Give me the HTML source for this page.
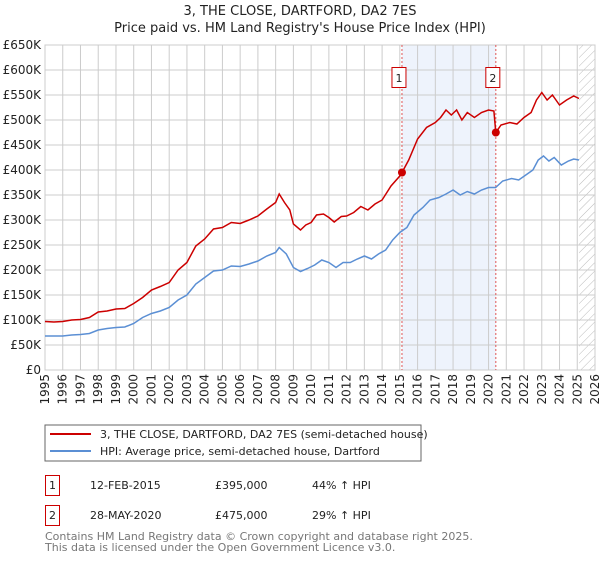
<!DOCTYPE html>
<html><head><meta charset="utf-8"><style>
body{margin:0;background:#fff;font-family:"DejaVu Sans","Liberation Sans",sans-serif;}
svg text{font-family:"DejaVu Sans","Liberation Sans",sans-serif;}
</style></head><body>
<svg id="c" width="600" height="560" xmlns="http://www.w3.org/2000/svg">
<defs><pattern id="hatch" width="6" height="6" patternUnits="userSpaceOnUse" patternTransform="rotate(45)"><line x1="0" y1="0" x2="0" y2="6" stroke="#bbb" stroke-width="1"/></pattern></defs>
<text x="300" y="15" text-anchor="middle" font-size="13" fill="#222">3, THE CLOSE, DARTFORD, DA2 7ES</text>
<text x="300" y="32" text-anchor="middle" font-size="13" fill="#222">Price paid vs. HM Land Registry's House Price Index (HPI)</text>
<g id="plot"></g>
<rect x="45" y="425" width="376" height="36" fill="#fff" stroke="#666"/>
<line x1="50" y1="434" x2="91" y2="434" stroke="#cc0000" stroke-width="2"/>
<text x="100" y="438" font-size="11" fill="#222">3, THE CLOSE, DARTFORD, DA2 7ES (semi-detached house)</text>
<line x1="50" y1="451" x2="91" y2="451" stroke="#5b8fd4" stroke-width="2"/>
<text x="100" y="455" font-size="11" fill="#222">HPI: Average price, semi-detached house, Dartford</text>
<g font-size="11" fill="#222">
<rect x="45.5" y="475.5" width="14" height="20" fill="#fff" stroke="#cc0000"/><text x="52.5" y="489" text-anchor="middle">1</text>
<text x="90" y="489">12-FEB-2015</text><text x="215" y="489">£395,000</text><text x="312" y="489">44% ↑ HPI</text></g>
<g font-size="11" fill="#222">
<rect x="45.5" y="505.5" width="14" height="20" fill="#fff" stroke="#cc0000"/><text x="52.5" y="519" text-anchor="middle">2</text>
<text x="90" y="519">28-MAY-2020</text><text x="215" y="519">£475,000</text><text x="312" y="519">29% ↑ HPI</text></g>
<text x="45" y="540" font-size="11" fill="#777">Contains HM Land Registry data © Crown copyright and database right 2025.</text>
<text x="45" y="551" font-size="11" fill="#777">This data is licensed under the Open Government Licence v3.0.</text>
</svg>
<script>
const redT=[1995,1995.5,1996,1996.5,1997,1997.5,1998,1998.5,1999,1999.5,2000,2000.5,2001,2001.5,2002,2002.5,2003,2003.5,2004,2004.5,2005,2005.5,2006,2006.5,2007,2007.5,2008,2008.2,2008.5,2008.8,2009,2009.4,2009.7,2010,2010.3,2010.7,2011,2011.3,2011.7,2012,2012.4,2012.8,2013.2,2013.6,2014,2014.5,2015,2015.12,2015.5,2016,2016.5,2017,2017.3,2017.6,2017.9,2018.2,2018.5,2018.8,2019.2,2019.6,2020,2020.3,2020.41,2020.7,2021.2,2021.6,2022,2022.4,2022.7,2023,2023.3,2023.6,2024,2024.4,2024.8,2025.1];
const redV=[97,96,97,100,101,105,116,118,122,123,133,145,160,167,175,200,215,248,262,282,285,295,293,300,308,322,335,352,335,320,292,280,290,295,310,312,305,296,307,308,315,327,320,332,340,368,388,395,420,462,485,495,505,520,510,520,500,515,505,515,520,518,475,490,495,492,505,515,540,555,540,550,530,540,548,543];
const hpiT=[1995,1996,1996.5,1997,1997.5,1998,1998.5,1999,1999.5,2000,2000.5,2001,2001.5,2002,2002.5,2003,2003.5,2004,2004.5,2005,2005.5,2006,2006.5,2007,2007.5,2008,2008.2,2008.6,2009,2009.4,2009.8,2010.2,2010.6,2011,2011.4,2011.8,2012.2,2012.6,2013,2013.4,2013.8,2014.2,2014.6,2015,2015.4,2015.8,2016.3,2016.7,2017.2,2017.6,2018,2018.4,2018.8,2019.2,2019.6,2020,2020.4,2020.8,2021.3,2021.7,2022.1,2022.5,2022.8,2023.1,2023.4,2023.7,2024.1,2024.5,2024.8,2025.1];
const hpiV=[68,68,70,71,73,80,83,85,86,93,105,113,118,125,140,150,172,185,198,200,208,207,212,218,228,235,245,232,205,197,203,210,220,215,205,215,215,222,228,222,232,240,260,275,285,310,325,340,345,352,360,350,357,352,360,365,365,378,383,380,390,400,420,428,418,425,410,418,422,420];
const saleT=[2015.12,2020.41];
const saleV=[395,475];
const saleLabels=["1","2"];
const yTicks=[0,50,100,150,200,250,300,350,400,450,500,550,600,650];
const yTickLabels=["£0","£50K","£100K","£150K","£200K","£250K","£300K","£350K","£400K","£450K","£500K","£550K","£600K","£650K"];
const xTicks=[1995,1996,1997,1998,1999,2000,2001,2002,2003,2004,2005,2006,2007,2008,2009,2010,2011,2012,2013,2014,2015,2016,2017,2018,2019,2020,2021,2022,2023,2024,2025,2026];
const X0=45,X1=595,Y0=370,Y1=45;
const x=t=>X0+(t-1995)/(2026-1995)*(X1-X0);
const y=v=>Y0-v/650*(Y0-Y1);
const NS="http://www.w3.org/2000/svg",g=document.getElementById('plot');
function mk(tag,a,p){const e=document.createElementNS(NS,tag);for(const k in a)e.setAttribute(k,a[k]);(p||g).appendChild(e);return e;}
let e=mk('rect',{x:x(saleT[0]),y:Y1,width:x(saleT[1])-x(saleT[0]),height:Y0-Y1,fill:'#eef3fc'});


e=mk('rect',{x:x(2025.1),y:Y1,width:X1-x(2025.1),height:Y0-Y1,fill:'url(#hatch)'});


yTicks.forEach((v,i)=>{
 e=mk('line',{x1:X0,x2:X1,y1:y(v),y2:y(v),stroke:'#ccc','stroke-width':1});
 
 
 e=mk('text',{x:X0-4,y:y(v)+4,'text-anchor':'end','font-size':12,fill:'#222'});e.textContent=yTickLabels[i];
 
 
});
xTicks.forEach(t=>{
 e=mk('line',{x1:x(t),x2:x(t),y1:Y1,y2:Y0,stroke:'#ccc','stroke-width':1});
 
 
 e=mk('text',{transform:`translate(${x(t)+4},${Y0+4}) rotate(-90)`,'text-anchor':'end','font-size':12,fill:'#222'});e.textContent=t;
 
 
});
e=mk('rect',{x:X0,y:Y1,width:X1-X0,height:Y0-Y1,fill:'none',stroke:'#ccc'});


saleT.forEach((t,i)=>{
 e=mk('line',{x1:x(t),x2:x(t),y1:Y1,y2:Y0,stroke:'#e05555','stroke-width':1,'stroke-dasharray':'2,2'});
 
 
 e=mk('rect',{x:x(t)-10,y:67.5,width:14,height:20,fill:'#fff',stroke:'#cc0000'});
 
 
 e=mk('text',{x:x(t)-3,y:82,'text-anchor':'middle','font-size':11,fill:'#222'});e.textContent=saleLabels[i];
 
 
});
const path=(T,V)=>T.map((t,i)=>(i?'L':'M')+x(t).toFixed(1)+','+y(V[i]).toFixed(1)).join('');
e=mk('path',{d:path(hpiT,hpiV),fill:'none',stroke:'#5b8fd4','stroke-width':1.5});


e=mk('path',{d:path(redT,redV),fill:'none',stroke:'#cc0000','stroke-width':1.5});


saleT.forEach((t,i)=>{
 e=mk('circle',{cx:x(t),cy:y(saleV[i]),r:4,fill:'#cc0000'});
 
 
});
</script>
</body></html>
